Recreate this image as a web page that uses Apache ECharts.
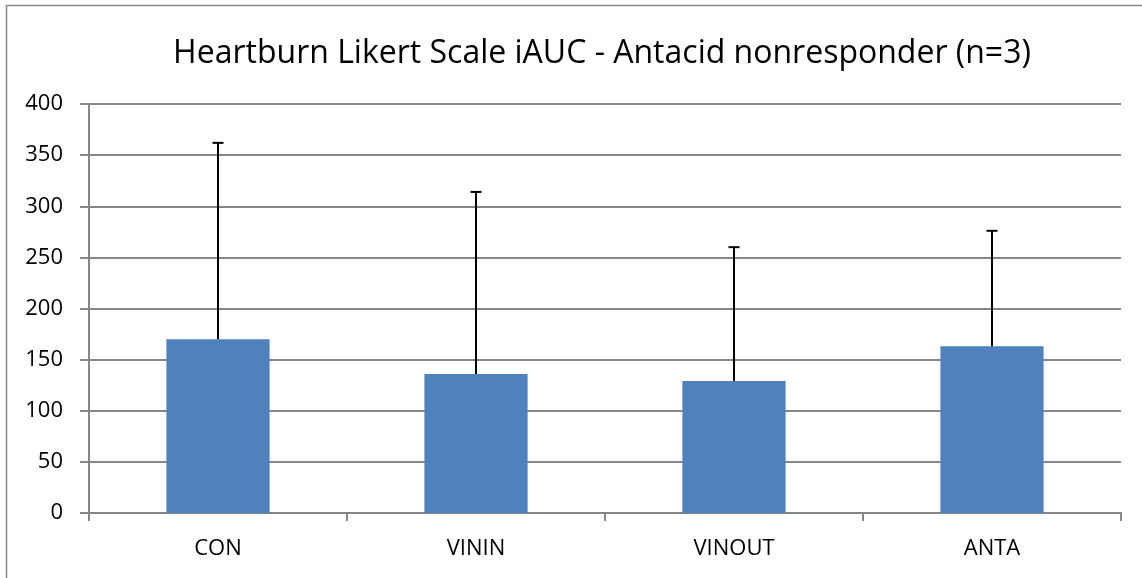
<!DOCTYPE html>
<html>
<head>
<meta charset="utf-8">
<script src="https://cdn.jsdelivr.net/npm/echarts@6/dist/echarts.min.js"></script>
<style>
  html, body { margin: 0; padding: 0; background: #fff; }
  #main { width: 1142px; height: 578px; }
</style>
</head>
<body>
<div id="main"></div>
<script>
var titleText = "Heartburn Likert Scale iAUC - Antacid nonresponder (n=3)";
var categories = ["CON", "VININ", "VINOUT", "ANTA"];
var meanValues = [170, 136, 129, 163];
var errValues = [192, 178, 131, 113];
var yTicks = { min: 0, max: 400, interval: 50 };

var myChart = echarts.init(document.getElementById('main'));

// error bar points: [index, mean, mean + err]
var errData = meanValues.map(function (v, i) {
    return [i, v, v + errValues[i]];
});

var option = {
    animation: false,
    backgroundColor: '#fff',
    title: {
        text: titleText,
        left: 597,
        top: 33,
        textAlign: 'center',
        textStyle: {
            fontFamily: 'Open Sans',
            fontSize: 32,
            fontWeight: 'normal',
            color: '#000'
        }
    },
    graphic: [{
        type: 'rect',
        shape: { x: 6.5, y: 5.5, width: 1300, height: 700 },
        style: { fill: 'none', stroke: '#868686', lineWidth: 1.5 },
        silent: true
    }],
    grid: {
        left: 89,
        right: 21,
        top: 104,
        bottom: 65
    },
    xAxis: {
        type: 'category',
        data: categories,
        boundaryGap: true,
        axisLine: { lineStyle: { color: '#868686', width: 2 } },
        axisTick: { show: true, length: 8, lineStyle: { color: '#868686', width: 2 } },
        axisLabel: {
            margin: 25,
            fontFamily: 'Open Sans',
            fontSize: 22,
            color: '#000'
        }
    },
    yAxis: {
        type: 'value',
        min: yTicks.min,
        max: yTicks.max,
        interval: yTicks.interval,
        axisLine: { show: true, lineStyle: { color: '#868686', width: 2 } },
        axisTick: { show: true, length: 9, lineStyle: { color: '#868686', width: 2 } },
        splitLine: { lineStyle: { color: '#868686', width: 2 } },
        axisLabel: {
            margin: 26,
            fontFamily: 'Open Sans',
            fontSize: 22,
            color: '#000'
        }
    },
    series: [{
        type: 'bar',
        data: meanValues,
        barWidth: '40%',
        itemStyle: { color: '#4F81BD' },
        z: 2
    }, {
        type: 'custom',
        data: errData,
        z: 3,
        renderItem: function (params, api) {
            var low = api.coord([api.value(0), api.value(1)]);
            var high = api.coord([api.value(0), api.value(2)]);
            var half = 5.5;
            var st = { stroke: '#000', lineWidth: 2 };
            return {
                type: 'group',
                children: [{
                    type: 'line',
                    shape: { x1: high[0], y1: high[1], x2: low[0], y2: low[1] },
                    style: st
                }, {
                    type: 'line',
                    shape: { x1: high[0] - half, y1: high[1], x2: high[0] + half, y2: high[1] },
                    style: st
                }]
            };
        }
    }]
};

myChart.setOption(option);
</script>
</body>
</html>
